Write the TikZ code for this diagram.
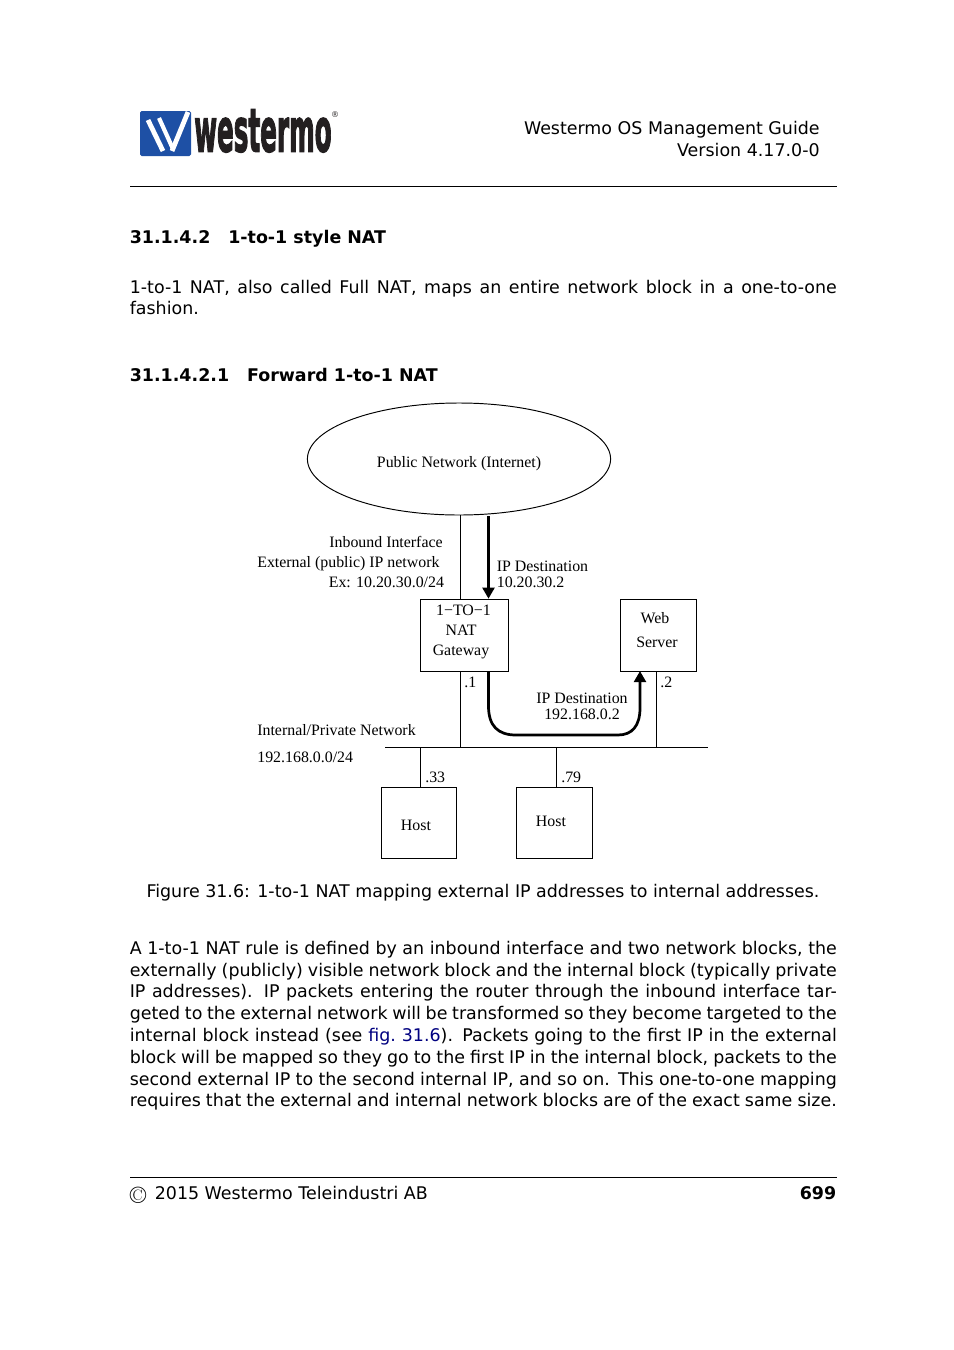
\documentclass[tikz,border=0pt]{standalone}
\usepackage{fontspec}
\usepackage{graphicx}
\newfontfamily\dv{DejaVu Sans}
\newfontfamily\tms{Liberation Serif}
\usetikzlibrary{shapes.geometric,arrows.meta}
\definecolor{linkblue}{RGB}{0,0,128}
\definecolor{logoblue}{RGB}{30,80,165}
\definecolor{logoblack}{RGB}{35,31,32}
\newcommand{\jl}[1]{\makebox[441.9pt][s]{#1}}
\tikzset{
  body/.style={anchor=base west,inner sep=0pt,font=\dv\fontsize{10.9}{13}\selectfont},
  bodyr/.style={anchor=base east,inner sep=0pt,font=\dv\fontsize{10.9}{13}\selectfont},
  head/.style={anchor=base west,inner sep=0pt,font=\dv\bfseries\fontsize{10.9}{13}\selectfont},
  fig/.style={anchor=base west,inner sep=0pt,font=\tms\fontsize{9.93}{11}\selectfont},
  figc/.style={anchor=base,inner sep=0pt,font=\tms\fontsize{9.93}{11}\selectfont},
  figbox/.style={draw,line width=0.6pt,inner sep=0pt,anchor=north west},
  thin line/.style={line width=0.6pt},
  flow/.style={line width=1.7pt,-{Triangle[length=7pt,width=7.5pt]}},
  rulel/.style={line width=0.5pt}
}
\begin{document}
\begin{tikzpicture}[x=0.625pt,y=-0.625pt]
\useasboundingbox (0,0) rectangle (954,1350);
\fill[white] (0,0) rectangle (954,1350);
% logo
\fill[logoblue,rounded corners=1pt] (140,111) rectangle (191,156);
\draw[white,line width=3pt] (148,120) -- (163,151);
\draw[white,line width=2.6pt] (159,118) -- (173,149);
\draw[white,line width=3pt] (172,151) -- (188,112);
\node[anchor=base west,inner sep=0pt,text=logoblack,font=\dv\bfseries] (logotext) at (194,151.5) {\scalebox{0.88}[2.14]{\fontsize{17.5}{18}\selectfont\special{pdf:code q 2 Tr 0.5 w 0.137 0.122 0.125 RG}westermo\special{pdf:code Q}}};
\node[anchor=center,inner sep=0pt,text=logoblack,font=\dv\fontsize{5}{6}\selectfont] (logor) at (335,114.5) {®};
% header
\node[bodyr] (h1) at (820,134) {Westermo OS Management Guide};
\node[bodyr] (h2) at (820,156) {Version 4.17.0-0};
\coordinate (rulea) at (130,186.5);
\coordinate (ruleb) at (837,186.5);
\draw[rulel] (rulea) -- (ruleb);
\node[head] (s1) at (129.5,243) {31.1.4.2\hspace{11.2pt}1-to-1 style NAT};
\node[body] (p1a) at (129.5,293) {\jl{1-to-1 NAT, also called Full NAT, maps an entire network block in a one-to-one}};
\node[body] (p1b) at (129.5,314) {fashion.};
\node[head] (s2) at (129.5,381) {31.1.4.2.1\hspace{11.2pt}Forward 1-to-1 NAT};
% diagram
\node[draw,ellipse,line width=0.6pt,inner sep=0pt,minimum width=189.5pt,minimum height=70pt] (pub) at (459,459) {};
\node[figbox,minimum width=55pt,minimum height=45pt] (gw) at (419.7,598.7) {};
\node[figbox,minimum width=47.5pt,minimum height=45pt] (web) at (619.7,598.7) {};
\node[figbox,minimum width=47pt,minimum height=44.4pt] (hosta) at (380.7,786.7) {};
\node[figbox,minimum width=47.5pt,minimum height=44.4pt] (hostb) at (515.7,786.7) {};
\coordinate (busl) at (385,747.5);
\coordinate (busr) at (708,747.5);
\draw[thin line] (busl) -- (busr);
\coordinate (pubd) at (460.5,515);
\coordinate (bus1) at (460.5,747.5);
\coordinate (bus2) at (656.5,747.5);
\coordinate (bus3) at (420.5,747.5);
\coordinate (bus4) at (556.5,747.5);
\draw[thin line] (pubd) -- (pubd |- gw.north);
\draw[thin line] (bus1 |- gw.south) -- (bus1);
\draw[thin line] (bus2 |- web.south) -- (bus2);
\draw[thin line] (bus3) -- (bus3 |- hosta.north);
\draw[thin line] (bus4) -- (bus4 |- hostb.north);
\coordinate (flow1a) at (488.5,516);
\coordinate (flow2a) at (488.5,671.5);
\coordinate (flow2b) at (640,671);
\draw[flow] (flow1a) -- (flow1a |- gw.north);
\draw[flow] (flow2a) -- (488.5,706) .. controls (488.5,726) and (498,735) .. (516,735) -- (618,735) .. controls (632,735) and (640,726) .. (640,708) -- (flow2b);
\node[figc] (tpub) at (459,467) {Public Network (Internet)};
\node[fig] (t1) at (329,547) {Inbound Interface};
\node[fig] (t2) at (257,567) {External (public) IP network};
\node[fig] (t3) at (328.5,587) {Ex: 10.20.30.0/24};
\node[fig] (t4) at (496.5,571) {IP Destination};
\node[fig] (t5) at (496.5,587) {10.20.30.2};
\node[figc] (g1) at (463.5,615) {1−TO−1};
\node[figc] (g2) at (461,635) {NAT};
\node[figc] (g3) at (461,655) {Gateway};
\node[figc] (w1) at (655,623) {Web};
\node[figc] (w2) at (657,647) {Server};
\node[fig] (a1) at (464,687) {.1};
\node[fig] (a2) at (660,687) {.2};
\node[figc] (d1) at (582,703) {IP Destination};
\node[figc] (d2) at (582,719) {192.168.0.2};
\node[fig] (n1) at (257,735) {Internal/Private Network};
\node[fig] (n2) at (257,762) {192.168.0.0/24};
\node[fig] (a3) at (425,782) {.33};
\node[fig] (a4) at (561,782) {.79};
\node[figc] (ha) at (416,830) {Host};
\node[figc] (hb) at (551,826) {Host};
% caption and text
\node[anchor=base,inner sep=0pt,font=\dv\fontsize{10.9}{13}\selectfont] (cap) at (483,897) {Figure 31.6: 1-to-1 NAT mapping external IP addresses to internal addresses.};
\node[body] (l1) at (129.5,954) {\jl{A 1-to-1 NAT rule is defined by an inbound interface and two network blocks, the}};
\node[body] (l2) at (129.5,976) {\jl{externally (publicly) visible network block and the internal block (typically private}};
\node[body] (l3) at (129.5,997) {\jl{IP addresses).\hspace{0.5pt} IP packets entering the router through the inbound interface tar-}};
\node[body] (l4) at (129.5,1019) {\jl{geted to the external network will be transformed so they become targeted to the}};
\node[body] (l5) at (129.5,1041) {\jl{internal block instead (see \textcolor{linkblue}{fig.~31.6}).\hspace{0.5pt} Packets going to the first IP in the external}};
\node[body] (l6) at (129.5,1063) {\jl{block will be mapped so they go to the first IP in the internal block, packets to the}};
\node[body] (l7) at (129.5,1085) {\jl{second external IP to the second internal IP, and so on.\hspace{0.5pt} This one-to-one mapping}};
\node[body] (l8) at (129.5,1106) {\jl{requires that the external and internal network blocks are of the exact same size.}};
% footer
\coordinate (rulec) at (130,1177.5);
\coordinate (ruled) at (837,1177.5);
\draw[rulel] (rulec) -- (ruled);
\node[anchor=base west,inner sep=0pt,font=\fontsize{15}{16}\selectfont] (cpr) at (129.5,1203) {\textcopyright};
\node[body] (f1) at (154.5,1199) {2015 Westermo Teleindustri AB};
\node[anchor=base east,inner sep=0pt,font=\dv\bfseries\fontsize{10.9}{13}\selectfont] (f2) at (836.5,1199) {699};
\end{tikzpicture}
\end{document}
